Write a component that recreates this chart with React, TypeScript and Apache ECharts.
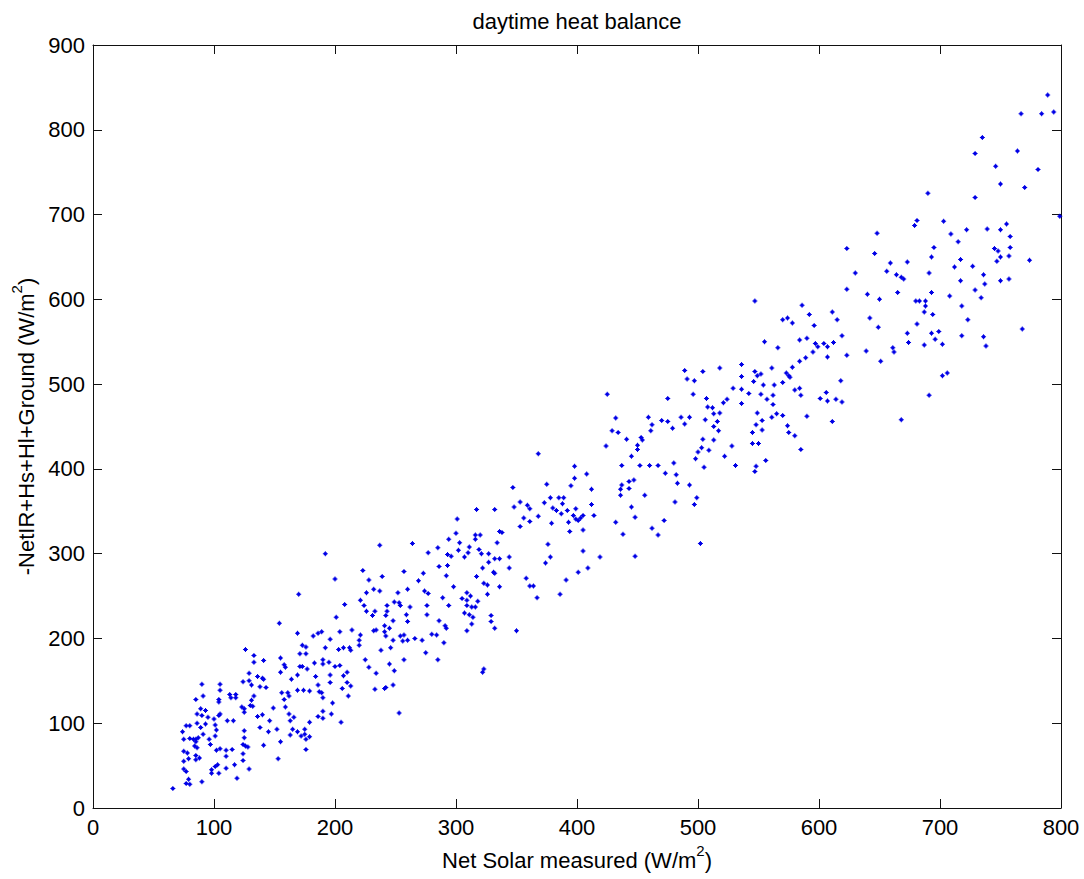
import React, { useEffect, useRef } from "react";
import * as echarts from "echarts";

const chartTitle = "daytime heat balance";
const xAxisName = "{t|Net Solar measured (W/m}{s|2}{t|)}";
const yAxisName = "{t|-NetIR+Hs+Hl+Ground (W/m}{s|2}{t|)}";
const xRange = [0, 800, 100];
const yRange = [0, 900, 100];

// [Net Solar measured, -NetIR+Hs+Hl+Ground] pairs
const lowBand: number[][] = [
  [126,187],[133,180],[133,172],[141,174],[129,159],[124,149],[129,150],[136,155],[140,153],[141,152],[138,143],[143,142],[131,145],[90,146],[105,146],[105,139],[91,132],[113,134],[118,134],[114,130],[118,130],[133,132],[131,127],[104,128],[104,125],[85,128],[123,119],[125,117],[130,121],[132,120],[89,117],[93,115],[86,111],[90,109],[105,111],[104,109],[125,113],[136,108],[140,110],[95,107],[100,105],[111,103],[116,103],[146,103],[77,97],[80,97],[86,100],[89,95],[93,99],[101,98],[102,92],[74,90],[125,91],[138,95],[145,90],[91,87],[75,81],[80,82],[83,81],[85,81],[87,83],[85,78],[96,81],[101,85],[97,75],[125,83],[124,75],[126,73],[128,72],[84,73],[86,71],[141,74],[75,67],[78,65],[102,68],[105,70],[110,68],[115,69],[124,64],[85,62],[88,59],[85,57],[110,61],[75,55],[79,58],[124,56],[103,51],[101,49],[98,45],[98,41],[104,41],[110,47],[117,51],[129,46],[75,46],[77,43],[79,34],[77,29],[80,28],[90,31],[119,35],[66,23],
  [192,300],[200,270],[170,252],[208,240]
];

const secondBand: number[][] = [
  [154,218],[201,225],[226,232],[233,232],[243,232],[259,228],[276,228],[307,230],[311,228],[314,225],[329,227],[329,220],[332,212],[313,217],[309,209],[242,227],[231,227],[248,221],[260,220],[286,221],[291,215],[292,212],[241,215],[245,212],[241,208],[242,203],[232,209],[234,210],[214,210],[204,208],[169,206],[189,208],[186,206],[182,203],[221,204],[220,198],[220,192],[196,199],[254,203],[257,204],[256,197],[260,198],[248,198],[266,200],[272,198],[280,205],[284,204],[290,195],[173,192],[176,190],[192,189],[203,187],[207,189],[212,189],[213,186],[246,189],[238,186],[275,183],[171,182],[176,182],[155,177],[190,175],[190,170],[195,172],[183,171],[225,175],[257,175],[285,175],[158,169],[159,166],[155,160],[171,167],[173,167],[177,164],[200,167],[204,168],[228,166],[245,170],[249,162],[234,159],[169,157],[196,157],[207,156],[210,160],[323,164],[322,160],[164,152],[184,155],[196,148],[210,148],[213,144],[206,141],[186,145],[248,145],[241,141],[242,142],[233,140],[169,139],[174,139],[179,138],[156,136],[161,136],[162,132],[187,137],[189,136],[190,130],[158,128],[211,132],[198,124],[149,118],[159,119],[253,112],[162,111],[190,114],[186,108],[190,106],[197,111],[166,107],[163,103],[179,101],[205,101],[152,93],[165,93],[169,90],[175,93],[175,87],[163,86],[172,85],[179,84],[176,81],[155,78],[176,69],[153,58]
];

const thirdBand: number[][] = [
  [317,352],[332,352],[301,341],[300,324],[316,322],[320,322],[316,317],[336,326],[294,317],[303,313],[334,313],[237,310],[264,312],[285,307],[302,304],[311,308],[319,305],[321,300],[277,301],[293,299],[296,297],[307,296],[310,301],[327,300],[332,294],[336,294],[286,285],[293,286],[327,290],[322,283],[223,280],[239,273],[257,279],[273,277],[292,274],[317,273],[331,278],[332,277],[228,269],[269,268],[298,261],[323,265],[326,263],[336,261],[226,254],[232,258],[237,256],[252,254],[260,258],[274,256],[277,253],[289,248],[309,254],[312,250],[326,252],[305,247],[318,244],[221,245],[224,239],[243,239],[249,243],[253,242],[254,239],[262,237],[276,239],[294,239],[309,245],[309,239],[313,237],[316,237]
];

const fourthBand: number[][] = [
  [425,488],[432,460],[429,445],[434,443],[424,427],[368,418],[398,403],[398,389],[408,394],[347,378],[375,382],[395,380],[412,376],[353,361],[348,355],[359,357],[361,353],[373,360],[378,366],[385,366],[389,366],[388,359],[380,354],[383,351],[392,351],[399,353],[412,358],[387,347],[397,345],[399,341],[401,339],[403,342],[405,345],[414,345],[368,344],[356,342],[361,338],[379,336],[353,332],[393,337],[394,326],[405,328],[432,337],[338,325],[376,311],[378,296],[405,303],[419,296],[344,296],
  [483,383],[493,381],[436,376],[436,369],[437,381],[443,385],[447,387],[443,377],[456,369],[499,366],[497,358],[481,361],[445,355],[448,343],[472,339],[438,323],[462,330],[467,322],[502,312],[448,297],[358,271],[361,262],[364,262],[367,248],[386,252],[391,269],[401,278],[409,283],[374,289],[344,283],[350,209],
  [489,516],[491,506],[497,504],[496,488],[475,483],[486,461],[493,461],[489,453],[459,461],[470,457],[475,456],[462,452],[479,448],[461,445],[453,437],[454,434],[441,435],[450,428],[450,423],[445,415],[452,404],[460,404],[467,404],[480,407],[473,395],[482,393],[498,412],[500,420],[437,404]
];

const fifthBand: number[][] = [
  [547,598],[586,593],[592,582],[570,576],[574,578],[578,572],[596,569],[555,550],[566,543],[584,552],[590,554],[597,548],[599,544],[595,538],[589,531],[584,527],[578,520],[518,519],[536,523],[504,515],[547,515],[561,519],[549,510],[552,512],[573,513],[575,510],[576,508],[536,509],
  [546,503],[554,499],[563,499],[570,502],[529,495],[536,494],[542,489],[580,493],[584,495],[585,487],[552,488],[562,487],[557,482],[562,476],[507,483],[524,482],[521,478],[536,477],[508,473],[512,472],[513,465],[518,466],[506,458],[549,466],[565,465],[570,463],[561,461],[590,462],[611,456],[601,483],[606,490],[607,480],[614,482],[619,479],[618,504],[691,487],[668,458],[553,457],[548,452],[516,456],[513,450],[517,445],[553,446],[545,443],[574,451],[575,443],[580,439],[504,435],[513,434],[528,427],[545,430],[550,430],[503,425],[509,422],[522,415],[585,423],[505,402],[531,404],[548,403],[547,397],[556,410]
];

const topBand: number[][] = [
  [789,841],[767,819],[784,819],[794,821],[735,791],[729,772],[764,775],[746,757],[781,753],[750,736],[770,732],[690,725],[729,720],[799,698],[681,693],[679,687],[703,692],[755,689],[722,682],[739,683],[750,682],[709,677],[758,674],[648,678],[715,668],[695,661],[758,661],[623,660],[646,654],[745,660],[748,657],[750,650],[693,650],[757,651],[747,645],[774,646],[717,647],[659,643],[673,644],[712,638],[727,639],[656,633],[664,629],[668,626],[670,624],[630,631],[691,631],[736,629],[717,622],[750,622],[757,624],[737,618],[623,612],[729,611],[665,608],[693,608],[640,606],[708,604],[734,602],[650,600],[680,598],[683,598],[688,598],[688,592],[718,592],[687,585],[611,585],[615,576],[642,578],[694,582],[723,576],[681,571],[649,567],[768,565],[619,557],[673,560],[674,549],[693,560],[696,553],[699,562],[718,557],[736,556],[738,545],[604,548],[607,544],[612,549],[623,534],[639,539],[661,543],[662,538],[687,546],[702,547],[607,532],[651,527],[702,510],[706,513]
];

const allPoints = [...lowBand, ...secondBand, ...thirdBand, ...fourthBand, ...fifthBand, ...topBand];

export default function App() {
  const ref = useRef<HTMLDivElement>(null);
  useEffect(() => {
    if (!ref.current) return;
    const chart = echarts.init(ref.current, null, { renderer: "svg" });
    const font = "'Liberation Sans', Arial, Helvetica, sans-serif";
    const fs = 22;
    const lineStyle = { color: "#111", width: 1 };
    const rich = {
      t: { fontSize: fs, fontFamily: font, color: "#000", lineHeight: 28, verticalAlign: "bottom" },
      s: { fontSize: 15, fontFamily: font, color: "#000", lineHeight: 28, verticalAlign: "top", padding: [0, 0, 10, 0] },
    };
    const axisBase = (min: number, max: number, interval: number) => ({
      type: "value",
      min,
      max,
      interval,
      splitLine: { show: false },
      axisLine: { show: true, onZero: false, lineStyle },
      axisTick: { show: true, inside: true, length: 9, lineStyle },
    });
    chart.setOption({
      animation: false,
      backgroundColor: "#ffffff",
      grid: { left: 93, right: 23, top: 45, bottom: 71, containLabel: false },
      graphic: [
        {
          type: "text",
          x: 577,
          y: 21,
          style: {
            text: chartTitle,
            fontSize: fs,
            fontFamily: font,
            fill: "#000",
            align: "center",
            verticalAlign: "middle",
          },
        },
      ],
      xAxis: [
        {
          ...axisBase(xRange[0], xRange[1], xRange[2]),
          position: "bottom",
          axisLabel: { margin: 8, fontSize: fs, fontFamily: font, color: "#000" },
          name: xAxisName,
          nameLocation: "middle",
          nameGap: 35,
          nameTextStyle: { rich },
        },
        {
          ...axisBase(xRange[0], xRange[1], xRange[2]),
          position: "top",
          axisLabel: { show: false },
        },
      ],
      yAxis: [
        {
          ...axisBase(yRange[0], yRange[1], yRange[2]),
          position: "left",
          axisLabel: { margin: 8, fontSize: fs, fontFamily: font, color: "#000" },
          name: yAxisName,
          nameLocation: "middle",
          nameGap: 50,
          nameTextStyle: { rich },
        },
        {
          ...axisBase(yRange[0], yRange[1], yRange[2]),
          position: "right",
          axisLabel: { show: false },
        },
      ],
      series: [
        {
          type: "scatter",
          xAxisIndex: 0,
          yAxisIndex: 0,
          data: allPoints,
          symbol: "path://M2,0H3V1H4V2H5V3H4V4H3V5H2V4H1V3H0V2H1V1H2Z",
          symbolSize: 5,
          itemStyle: { color: "#0000e6", opacity: 1 },
        },
      ],
    });
    return () => chart.dispose();
  }, []);
  return (
    <div
      ref={ref}
      style={{ position: "absolute", left: 0, top: 0, width: 1084, height: 879, background: "#fff" }}
    />
  );
}
